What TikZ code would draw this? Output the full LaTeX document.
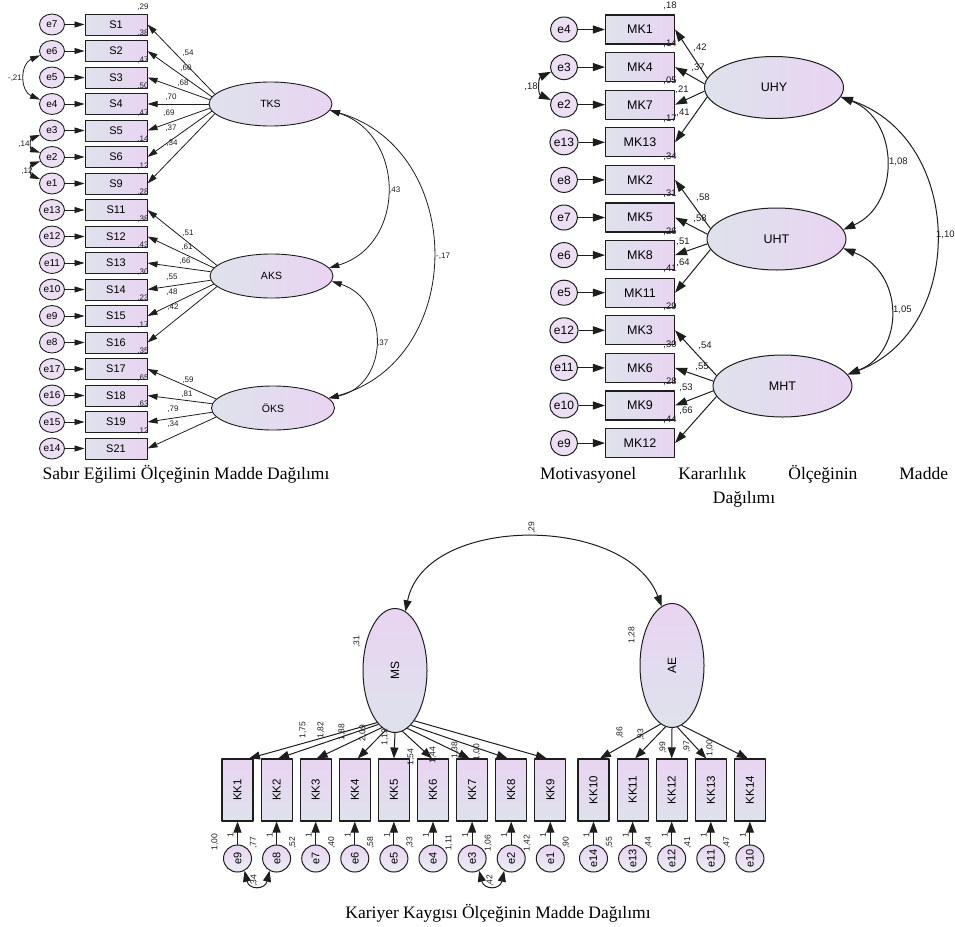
\documentclass[tikz,border=0pt]{standalone}
\usepackage{fontspec}
\usepackage{graphicx}
\setmainfont{Liberation Serif}
\newfontfamily\sansf{Liberation Sans}
\usetikzlibrary{arrows.meta,shapes.geometric}
\definecolor{latL}{RGB}{222,226,235}
\definecolor{latR}{RGB}{233,212,242}
\definecolor{errF}{RGB}{236,223,243}
\definecolor{ink}{RGB}{30,30,30}
\begin{document}
\begin{tikzpicture}[x=1pt,y=-1pt,line join=round,
  % --- left model (Sabir) ---
  latA/.style={ellipse,draw=ink,line width=0.9pt,left color=latL,right color=latR,inner sep=0,
    minimum width=123,minimum height=44,font=\sansf\fontsize{10.5}{12}\selectfont},
  boxA/.style={rectangle,draw=ink,line width=1pt,left color=latL,right color=latR,inner sep=0,
    minimum width=62,minimum height=21,font=\sansf\fontsize{11}{12}\selectfont},
  errA/.style={ellipse,draw=ink,line width=0.9pt,fill=errF,inner sep=0,
    minimum width=25,minimum height=21,font=\sansf\fontsize{10}{11}\selectfont},
  numA/.style={inner sep=0,text=ink,font=\sansf\fontsize{8}{9}\selectfont},
  arrA/.style={draw=ink,line width=0.8pt,-{Triangle[length=10pt,width=6pt]}},
  covA/.style={draw=ink,line width=0.8pt,{Triangle[length=10pt,width=6pt]}-{Triangle[length=10pt,width=6pt]}},
  % --- right model (Motivasyonel) ---
  latB/.style={ellipse,draw=ink,line width=1pt,left color=latL,right color=latR,inner sep=0,
    minimum width=139,minimum height=62,font=\sansf\fontsize{12.5}{14}\selectfont},
  boxB/.style={rectangle,draw=ink,line width=1.1pt,left color=latL,right color=latR,inner sep=0,
    minimum width=69,minimum height=29,font=\sansf\fontsize{12.5}{14}\selectfont},
  errB/.style={ellipse,draw=ink,line width=1pt,fill=errF,inner sep=0,
    minimum width=27,minimum height=25,font=\sansf\fontsize{12}{13}\selectfont},
  numB/.style={inner sep=0,text=ink,font=\sansf\fontsize{9.5}{11}\selectfont},
  arrB/.style={draw=ink,line width=1pt,-{Triangle[length=12pt,width=8pt]}},
  covB/.style={draw=ink,line width=1pt,{Triangle[length=12pt,width=8pt]}-{Triangle[length=12pt,width=8pt]}},
  % --- bottom model (Kariyer), drawn upright ---
  latC/.style={ellipse,draw=ink,line width=1pt,top color=latR,bottom color=latL,inner sep=0,
    minimum width=64,minimum height=124,font=\sansf\fontsize{12}{13}\selectfont},
  boxC/.style={rectangle,draw=ink,line width=1.1pt,top color=latR,bottom color=latL,inner sep=0,
    minimum width=31,minimum height=62,font=\sansf\fontsize{11.5}{13}\selectfont},
  errC/.style={ellipse,draw=ink,line width=1pt,top color=latR,bottom color=latL!60!white,inner sep=0,
    minimum width=28,minimum height=27,font=\sansf\fontsize{11}{12}\selectfont},
  numC/.style={inner sep=0,text=ink,rotate=90,font=\sansf\fontsize{8.5}{10}\selectfont},
  arrC/.style={draw=ink,line width=1pt,-{Triangle[length=11pt,width=8pt]}},
  covC/.style={draw=ink,line width=1pt,{Triangle[length=11pt,width=8pt]}-{Triangle[length=11pt,width=8pt]}},
  caption/.style={inner sep=0,align=center,font=\fontsize{17.5}{24}\selectfont}
]
\useasboundingbox (0,0) rectangle (955,926);
\fill[white] (0,0) rectangle (955,926);

%% ================= Sabir Egilimi =================
\foreach \n/\e/\i in {S1/e7/0,S2/e6/1,S3/e5/2,S4/e4/3,S5/e3/4,S6/e2/5,S9/e1/6,S11/e13/7,S12/e12/8,
    S13/e11/9,S14/e10/10,S15/e9/11,S16/e8/12,S17/e17/13,S18/e16/14,S19/e15/15,S21/e14/16}{
  \node[boxA] (\n) at (116,{24.5+26.5*\i}) {\n};
  \node[errA] (A\e) at (52,{24.5+26.5*\i}) {\e};
  \draw[arrA] (A\e) -- (\n);
}
\node[latA] (TKS) at (270.5,104) {TKS};
\node[latA] (AKS) at (271.5,276) {AKS};
\node[latA] (OKS) at (273,408) {ÖKS};

\foreach \n/\a in {S1/170,S2/173,S3/176,S4/180,S5/184,S6/187,S9/190}
  \draw[arrA] (TKS.\a) -- (\n.east);
\foreach \n/\a in {S11/169,S12/172,S13/176,S14/184,S15/188,S16/191}
  \draw[arrA] (AKS.\a) -- (\n.east);
\foreach \n/\a in {S17/171,S18/176,S19/184,S21/189}
  \draw[arrA] (OKS.\a) -- (\n.east);

% squared multiple correlations
\foreach \i/\v in {0/{,29},1/{,38},2/{,47},3/{,50},4/{,47},5/{,14},6/{,12},7/{,28},8/{,38},
    9/{,43},10/{,30},11/{,23},12/{,17},13/{,35},14/{,65},15/{,63},16/{,12}}
  \node[numA] (rA\i) at (143,{7+26.5*\i}) {\v};

% standardized loadings
\foreach \x/\y/\t [count=\k] in {188/53/{,54},186/68/{,60},183/83/{,68},171/97/{,70},169/113/{,69},
    171/128/{,37},172/143/{,34},188/233/{,51},187/247/{,61},185/261/{,66},172/277/{,55},
    172/292/{,48},173/307/{,42},188/380/{,59},187/394/{,81},173/409/{,79},173/424/{,34}}
  \node[numA] (lA\k) at (\x,\y) {\t};

% factor correlations
\draw[covA] (TKS.-6) .. controls (406,135) and (406,245) .. (AKS.8);
\draw[covA] (TKS.-6) .. controls (467,150) and (467,360) .. (OKS.10);
\draw[covA] (AKS.-5) .. controls (390,300) and (390,385) .. (OKS.10);
\node[numA,anchor=west] (cA1) at (389,190) {,43};
\node[numA,anchor=west] (cA2) at (436,256) {-,17};
\node[numA,anchor=west] (cA3) at (377,343) {,37};

% error covariances
\draw[covA] (Ae6.200) .. controls (20,64) and (20,91) .. (Ae4.160);
\draw[covA] (Ae3.200) .. controls (30,139) and (30,149) .. (Ae2.160);
\draw[covA] (Ae2.200) .. controls (30,165) and (30,175) .. (Ae1.160);
\node[numA] (eA1) at (15,78) {-,21};
\node[numA] (eA2) at (24,144) {,14};
\node[numA] (eA3) at (27,171) {,12};

\node[caption] (capA) at (186,474) {Sabır Eğilimi Ölçeğinin Madde Dağılımı};

%% ================= Motivasyonel Kararlilik =================
\foreach \n/\e/\i in {MK1/e4/0,MK4/e3/1,MK7/e2/2,MK13/e13/3,MK2/e8/4,MK5/e7/5,MK8/e6/6,MK11/e5/7,
    MK3/e12/8,MK6/e11/9,MK9/e10/10,MK12/e9/11}{
  \node[boxB] (\n) at (640,{29.5+37.6*\i}) {\n};
  \node[errB] (B\e) at (564,{29.5+37.6*\i}) {\e};
  \draw[arrB] (B\e) -- (\n);
}
\node[latB] (UHY) at (774,87.5) {UHY};
\node[latB] (UHT) at (776.5,239) {UHT};
\node[latB] (MHT) at (782.5,386) {MHT};

\foreach \n/\a in {MK1/172,MK4/177,MK7/183,MK13/188}
  \draw[arrB] (UHY.\a) -- (\n.east);
\foreach \n/\a in {MK2/171,MK5/176,MK8/184,MK11/189}
  \draw[arrB] (UHT.\a) -- (\n.east);
\foreach \n/\a in {MK3/171,MK6/176,MK9/184,MK12/189}
  \draw[arrB] (MHT.\a) -- (\n.east);

\foreach \i/\v in {0/{,18},1/{,14},2/{,05},3/{,17},4/{,34},5/{,31},6/{,26},7/{,41},
    8/{,29},9/{,30},10/{,28},11/{,44}}
  \node[numB] (rB\i) at (670,{6+37.6*\i}) {\v};

\foreach \x/\y/\t [count=\k] in {700/48/{,42},698/68/{,37},682/90/{,21},683/113/{,41},
    703/198/{,58},700/219/{,58},683/242/{,51},683/263/{,64},
    705/346/{,54},702/367/{,55},686/388/{,53},686/411/{,66}}
  \node[numB] (lB\k) at (\x,\y) {\t};

\draw[covB] (UHY.-8) .. controls (900,120) and (900,205) .. (UHT.8);
\draw[covB] (UHT.-8) .. controls (905,272) and (905,352) .. (MHT.10);
\draw[covB] (UHY.-8) .. controls (966,140) and (966,330) .. (MHT.10);
\node[numB,anchor=west] (cB1) at (889,162) {1,08};
\node[numB,anchor=west] (cB2) at (893,310) {1,05};
\node[numB,anchor=west] (cB3) at (936,235) {1,10};

\draw[covB] (Be3.200) .. controls (538,78) and (538,94) .. (Be2.160);
\node[numB] (eB1) at (531,87) {,18};

% justified first line, as the caption is set in the document
\node[caption] (capB) at (744,486)
  {\makebox[408pt][s]{Motivasyonel Kararlılık Ölçeğinin Madde}\\Dağılımı};

%% ================= Kariyer Kaygisi =================
\foreach \n/\e/\x in {KK1/e9/237.5,KK2/e8/276.6,KK3/e7/315.7,KK4/e6/354.8,KK5/e5/393.9,
    KK6/e4/433.0,KK7/e3/472.1,KK8/e2/511.2,KK9/e1/550.3,
    KK10/e14/593.5,KK11/e13/632.6,KK12/e12/671.7,KK13/e11/710.8,KK14/e10/749.9}{
  \node[boxC] (\n) at (\x,790) {\rotatebox{90}{\n}};
  \node[errC] (C\e) at (\x,858.5) {\rotatebox{90}{\e}};
  \draw[arrC] (C\e) -- (\n);
  \node[numC] (one\e) at ({\x-7},835) {1};
}
\node[latC] (MS) at (395,670.5) {\rotatebox{90}{MS}};
\node[latC] (AE) at (672,665.5) {\rotatebox{90}{AE}};

\foreach \n/\a/\s in {KK1/-109/11.5,KK2/-107/1.5,KK3/-103/1,KK4/-99/3,KK5/-90/0,
    KK6/-83/-1,KK7/-78/-2.5,KK8/-74/-3.5,KK9/-69/-3.5}
  \draw[arrC] (MS.\a) -- ([xshift=\s pt]\n.north);
\foreach \n/\a/\s in {KK10/-101/6.5,KK11/-96/2.5,KK12/-90/0,KK13/-85/-4.5,KK14/-81/-2}
  \draw[arrC] (AE.\a) -- ([xshift=\s pt]\n.north);

\draw[covC] (MS.80) .. controls (425,514) and (627,514) .. (AE.100);
\node[numC] (cC1) at (532,528) {,29};
\node[numC] (vMS) at (357,642) {,31};
\node[numC] (vAE) at (632,635) {1,28};

% unstandardized loadings
\foreach \x/\y/\t [count=\k] in {303/730/{1,75},321/730/{1,82},342/732/{1,88},363/733/{2,09},
    385/737/{1,12},411/757/{1,54},433/755/{1,44},455/750/{1,38},477/752/{1,00},
    620/733/{,86},641/735/{,93},663/748/{,99},687/747/{,97},710/748/{1,00}}
  \node[numC] (lC\k) at (\x,\y) {\t};

% error variances
\foreach \x/\t [count=\k] in {253.5/{,77},292.6/{,52},331.7/{,40},370.8/{,58},409.9/{,33},
    449/{1,11},488.1/{1,06},527.2/{1,42},566.3/{,90},609.5/{,55},648.6/{,44},687.7/{,41},726.8/{,47}}
  \node[numC] (vC\k) at (\x,843) {\t};
\node[numC] (fix1) at (215,842) {1,00};

% error covariances
\draw[covC] (Ce9.-60) .. controls (249,890) and (265,890) .. (Ce8.-120);
\draw[covC] (Ce3.-60) .. controls (484,890) and (500,890) .. (Ce2.-120);
\node[numC] (eC1) at (254,881) {,34};
\node[numC] (eC2) at (490,881) {,42};

\node[caption] (capC) at (498,913) {Kariyer Kaygısı Ölçeğinin Madde Dağılımı};
\end{tikzpicture}
\end{document}
